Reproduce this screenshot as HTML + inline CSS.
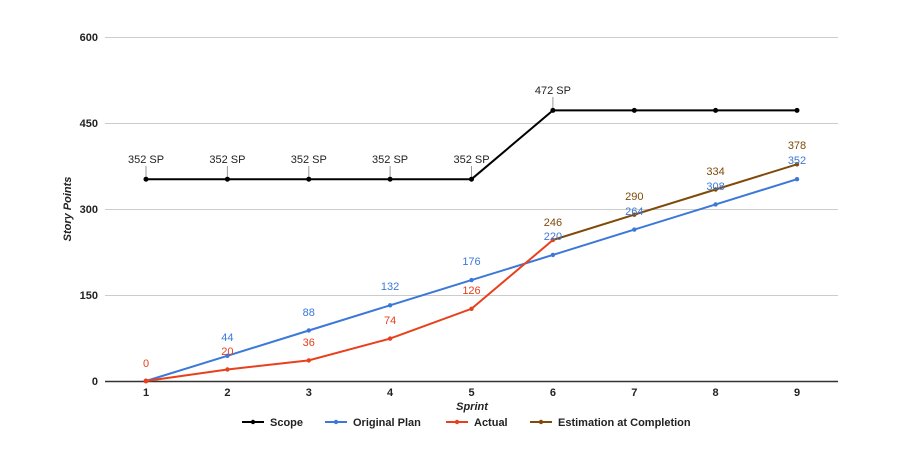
<!DOCTYPE html>
<html><head><style>body{margin:0;background:#fff}svg{display:block}text{font-family:'Liberation Sans',sans-serif !important}</style></head>
<body>
<svg width="899" height="449" viewBox="0 0 899 449" style="font-family:'Liberation Sans',sans-serif">
<g stroke="#ccc" stroke-width="1">
<line x1="105" y1="37.5" x2="838" y2="37.5"/>
<line x1="105" y1="123.5" x2="838" y2="123.5"/>
<line x1="105" y1="209.5" x2="838" y2="209.5"/>
<line x1="105" y1="295.5" x2="838" y2="295.5"/>
</g>
<line x1="105" y1="381.5" x2="838" y2="381.5" stroke="#333" stroke-width="1.5"/>
<g font-size="11" font-weight="bold" fill="#222" text-anchor="end">
<text x="98" y="41">600</text><text x="98" y="127">450</text><text x="98" y="213">300</text><text x="98" y="299">150</text><text x="98" y="385">0</text>
</g>
<g font-size="11" font-weight="bold" fill="#222" text-anchor="middle">
<text x="146" y="396">1</text><text x="227.4" y="396">2</text><text x="308.8" y="396">3</text><text x="390.1" y="396">4</text><text x="471.5" y="396">5</text><text x="552.9" y="396">6</text><text x="634.3" y="396">7</text><text x="715.6" y="396">8</text><text x="797" y="396">9</text>
<text x="472" y="410" font-style="italic">Sprint</text>
</g>
<text transform="translate(71,209) rotate(-90)" font-size="11" font-weight="bold" font-style="italic" text-anchor="middle" fill="#222">Story Points</text>
<g stroke="#999" stroke-width="1">
<line x1="146" y1="166" x2="146" y2="179"/><line x1="227.4" y1="166" x2="227.4" y2="179"/><line x1="308.8" y1="166" x2="308.8" y2="179"/><line x1="390.1" y1="166" x2="390.1" y2="179"/><line x1="471.5" y1="166" x2="471.5" y2="179"/><line x1="552.9" y1="97" x2="552.9" y2="110"/>
</g>
<g font-size="11" fill="#222" text-anchor="middle" style="font-family:'Liberation Sans',sans-serif">
<text x="146" y="163">352 SP</text><text x="227.4" y="163">352 SP</text><text x="308.8" y="163">352 SP</text><text x="390.1" y="163">352 SP</text><text x="471.5" y="163">352 SP</text><text x="552.9" y="94">472 SP</text>
</g>
<polyline fill="none" stroke="#000" stroke-width="2" points="146,179.2 227.4,179.2 308.8,179.2 390.1,179.2 471.5,179.2 552.9,110.4 634.3,110.4 715.6,110.4 797,110.4"/>
<g fill="#000"><circle cx="146" cy="179.2" r="2.5"/><circle cx="227.4" cy="179.2" r="2.5"/><circle cx="308.8" cy="179.2" r="2.5"/><circle cx="390.1" cy="179.2" r="2.5"/><circle cx="471.5" cy="179.2" r="2.5"/><circle cx="552.9" cy="110.4" r="2.5"/><circle cx="634.3" cy="110.4" r="2.5"/><circle cx="715.6" cy="110.4" r="2.5"/><circle cx="797" cy="110.4" r="2.5"/></g>
<polyline fill="none" stroke="#3c78d8" stroke-width="2" points="146,381 227.4,355.8 308.8,330.5 390.1,305.3 471.5,280.1 552.9,254.9 634.3,229.6 715.6,204.4 797,179.2"/>
<g fill="#3c78d8"><circle cx="227.4" cy="355.8" r="2.2"/><circle cx="308.8" cy="330.5" r="2.2"/><circle cx="390.1" cy="305.3" r="2.2"/><circle cx="471.5" cy="280.1" r="2.2"/><circle cx="552.9" cy="254.9" r="2.2"/><circle cx="634.3" cy="229.6" r="2.2"/><circle cx="715.6" cy="204.4" r="2.2"/><circle cx="797" cy="179.2" r="2.2"/></g>
<polyline fill="none" stroke="#7f4a0a" stroke-width="2" points="552.9,240 634.3,214.7 715.6,189.5 797,164.3"/>
<g fill="#7f4a0a"><circle cx="634.3" cy="214.7" r="2.2"/><circle cx="715.6" cy="189.5" r="2.2"/><circle cx="797" cy="164.3" r="2.2"/></g>
<polyline fill="none" stroke="#e8401c" stroke-width="2" points="146,381 227.4,369.5 308.8,360.4 390.1,338.6 471.5,308.8 552.9,240"/>
<g fill="#e8401c"><circle cx="146" cy="381" r="2.5"/><circle cx="227.4" cy="369.5" r="2.2"/><circle cx="308.8" cy="360.4" r="2.2"/><circle cx="390.1" cy="338.6" r="2.2"/><circle cx="471.5" cy="308.8" r="2.2"/><circle cx="552.9" cy="240" r="2.2"/></g>
<g font-size="11" text-anchor="middle" fill="#3c78d8" style="font-family:'Liberation Sans',sans-serif">
<text x="227.4" y="341">44</text><text x="308.8" y="316">88</text><text x="390.1" y="290">132</text><text x="471.5" y="265">176</text><text x="552.9" y="240">220</text><text x="634.3" y="215">264</text><text x="715.6" y="190">308</text><text x="797" y="164">352</text>
</g>
<g font-size="11" text-anchor="middle" fill="#e8401c" style="font-family:'Liberation Sans',sans-serif">
<text x="146" y="367">0</text><text x="227.4" y="355">20</text><text x="308.8" y="346">36</text><text x="390.1" y="324">74</text><text x="471.5" y="294">126</text>
</g>
<g font-size="11" text-anchor="middle" fill="#7f4a0a" style="font-family:'Liberation Sans',sans-serif">
<text x="552.9" y="226">246</text><text x="634.3" y="200">290</text><text x="715.6" y="175">334</text><text x="797" y="149">378</text>
</g>
<g font-size="11" font-weight="bold" fill="#222">
<line x1="242" y1="422" x2="264" y2="422" stroke="#000" stroke-width="2"/><circle cx="253" cy="422" r="2.2" fill="#000"/><text x="270" y="426">Scope</text>
<line x1="325" y1="422" x2="347" y2="422" stroke="#3c78d8" stroke-width="2"/><circle cx="336" cy="422" r="2.2" fill="#3c78d8"/><text x="353" y="426">Original Plan</text>
<line x1="446" y1="422" x2="468" y2="422" stroke="#e8401c" stroke-width="2"/><circle cx="457" cy="422" r="2.2" fill="#e8401c"/><text x="474" y="426">Actual</text>
<line x1="530" y1="422" x2="552" y2="422" stroke="#7f4a0a" stroke-width="2"/><circle cx="541" cy="422" r="2.2" fill="#7f4a0a"/><text x="558" y="426">Estimation at Completion</text>
</g>
</svg>
</body></html>
